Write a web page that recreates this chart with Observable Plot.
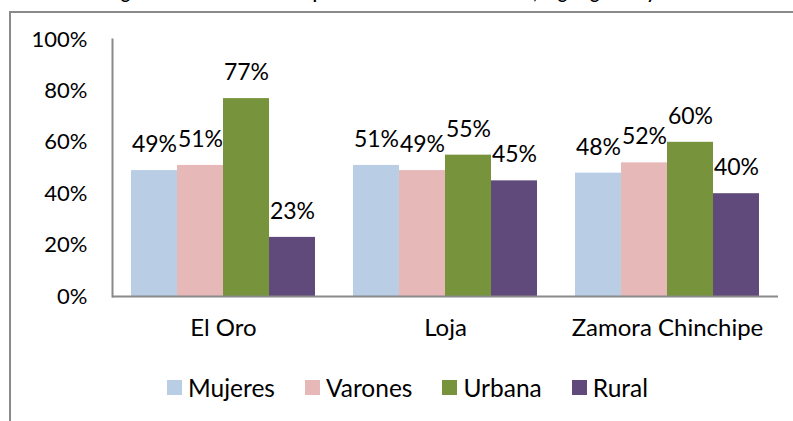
<!DOCTYPE html>
<html><head><meta charset="utf-8">
<script src="https://cdn.jsdelivr.net/npm/d3@7"></script>
<script src="https://cdn.jsdelivr.net/npm/@observablehq/plot@0.6"></script>
<style>
body{margin:0;background:#fff;}
#wrap{position:relative;width:793px;height:421px;overflow:hidden;font-family:Lato,sans-serif;}
#frame{position:absolute;left:9px;top:11px;width:900px;height:500px;border-left:2px solid #8a8a8a;border-top:2px solid #8a8a8a;}
#title{position:absolute;top:-16px;left:0;width:793px;text-align:center;font-weight:bold;font-size:17px;line-height:17px;white-space:nowrap;color:#000;}
#chart{position:absolute;left:0;top:0;}
#legend{position:absolute;top:375px;left:167px;display:flex;align-items:center;font-size:24.5px;line-height:25px;color:#000;}
.item{display:flex;align-items:center;margin-right:30px}
.sw{width:15px;height:15px;margin-right:6px}
</style></head><body>
<div id="wrap"><div id="title"></div><div id="frame"></div><div id="chart"></div><div id="legend"></div></div>
<script>
const titleText = "Región 7: Distribución de la población del área de estudio, según género y área";
const provinces = ["El Oro", "Loja", "Zamora Chinchipe"];
const series = ["Mujeres", "Varones", "Urbana", "Rural"];
const mujeres = [0.49, 0.51, 0.48];
const varones = [0.51, 0.49, 0.52];
const urbana  = [0.77, 0.55, 0.60];
const rural   = [0.23, 0.45, 0.40];
const colors = ["#B9CDE5", "#E6B9B8", "#77933C", "#604A7B"];
const yTicks = [0, 0.2, 0.4, 0.6, 0.8, 1];

const values = [mujeres, varones, urbana, rural];
const data = provinces.flatMap((p, i) => series.map((s, j) => ({province: p, serie: s, value: values[j][i]})));
const pct = d3.format(".0%");

document.getElementById("title").textContent = titleText;

const chart = Plot.plot({
  width: 793, height: 421,
  marginLeft: 112, marginRight: 15, marginTop: 39, marginBottom: 125,
  style: {fontFamily: "Lato, sans-serif", background: "transparent", color: "#000"},
  fx: {domain: provinces, padding: 0, label: null},
  x: {domain: series, paddingInner: 0, paddingOuter: 0.38, axis: null},
  y: {domain: [0, 1], label: null, axis: null},
  color: {domain: series, range: colors},
  marks: [
    Plot.barY(data, {fx: "province", x: "serie", y: "value", fill: "serie"}),
    Plot.text(data, {fx: "province", x: "serie", y: "value", text: d => pct(d.value), dy: -26, fontSize: 23, fill: "#000"}),
    Plot.axisY({ticks: yTicks, tickFormat: pct, tickSize: 0, tickPadding: 25, fontSize: 22, label: null, fill: "#000"}),
    Plot.axisFx({anchor: "bottom", tickSize: 0, tickPadding: 22, fontSize: 24, label: null, fill: "#000"}),
    Plot.ruleY([0], {stroke: "#8a8a8a", strokeWidth: 2}),
    Plot.frame({anchor: "left", fx: [provinces[0]], stroke: "#8a8a8a", strokeWidth: 2})
  ]
});
document.getElementById("chart").appendChild(chart);

const color = chart.scale("color");
const legend = document.getElementById("legend");
series.forEach((s, i) => {
  const it = document.createElement("div");
  it.className = "item";
  const sw = document.createElement("div");
  sw.className = "sw";
  sw.style.background = color.range[i];
  const t = document.createElement("span");
  t.textContent = s;
  it.appendChild(sw); it.appendChild(t);
  legend.appendChild(it);
});
</script>
</body></html>
